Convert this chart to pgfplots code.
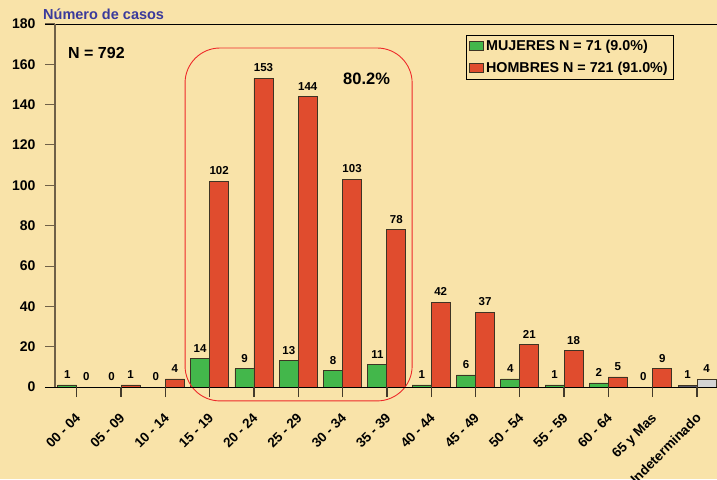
\documentclass[border=0pt]{standalone}
\usepackage{fontspec}
\setmainfont{Liberation Sans}
\usepackage{pgfplots}
\pgfplotsset{compat=1.18}
\definecolor{bgcol}{HTML}{F9E3A9}
\definecolor{verde}{HTML}{43B74B}
\definecolor{rojo}{HTML}{E04C2E}
\definecolor{gris}{HTML}{D4D4D4}
\definecolor{grisosc}{HTML}{5A5A6A}
\definecolor{borde}{HTML}{3E3424}
\definecolor{spine}{HTML}{6F6048}
\definecolor{titulo}{HTML}{3A3A9C}
\definecolor{marco}{HTML}{EE2A2A}

\pgfplotstableread{
x mujeres hombres
0 1 0
1 0 1
2 0 4
3 14 102
4 9 153
5 13 144
6 8 103
7 11 78
8 1 42
9 6 37
10 4 21
11 1 18
12 2 5
13 0 9
}\datos

\begin{document}
\begin{tikzpicture}
\fill[bgcol] (-55pt,-92pt) rectangle (662pt,387pt);
\useasboundingbox (-55pt,-92pt) rectangle (662pt,387pt);
\begin{axis}[
    scale only axis,
    width=662pt, height=363pt,
    xmin=-0.49, xmax=14.45,
    ymin=0, ymax=180,
    bar width=19pt,
    axis line style={draw=none},
    ytick={0,20,...,180},
    xtick={0,...,14},
    xticklabels={00 - 04,05 - 09,10 - 14,15 - 19,20 - 24,25 - 29,30 - 34,35 - 39,40 - 44,45 - 49,50 - 54,55 - 59,60 - 64,65 y Mas,Indeterminado},
    tick align=outside,
    major tick length=10pt,
    xtick pos=left, ytick pos=left,
    tick style={spine, line width=1pt},
    /pgf/number format/assume math mode=true,
    yticklabel style={font=\fontsize{14}{14}\selectfont\bfseries, xshift=-6pt},
    xticklabel style={font=\fontsize{13.5}{13.5}\selectfont\bfseries, rotate=45, anchor=north east, inner sep=1pt, yshift=-8pt, xshift=-11pt},
    clip=false,
    every node near coord/.append style={font=\fontsize{11.5}{11.5}\selectfont\bfseries, text=black, inner sep=0pt, yshift=6pt},
    legend style={at={(0.621,0.970)}, anchor=north west, draw=black, fill=bgcol,
        font=\fontsize{14.3}{14.3}\selectfont\bfseries, inner sep=3pt, row sep=6pt,
        legend cell align=left},
    legend image code/.code={\draw[#1] (0pt,-4.5pt) rectangle (14pt,4.5pt);},
]
\addplot[ybar, bar shift=-9.5pt, fill=verde, draw=borde, line width=0.8pt,
    nodes near coords, every node near coord/.append style={xshift=-9.5pt}]
    table[x=x, y=mujeres] {\datos};
\addlegendentry{MUJERES N = 71 (9.0\%)}
\addplot[ybar, bar shift=9.5pt, fill=rojo, draw=borde, line width=0.8pt,
    nodes near coords, every node near coord/.append style={xshift=9.5pt}]
    table[x=x, y=hombres] {\datos};
\addlegendentry{HOMBRES N = 721 (91.0\%)}
\addplot[ybar, bar shift=-9.5pt, fill=grisosc, draw=borde, line width=0.8pt,
    nodes near coords, every node near coord/.append style={xshift=-9.5pt}, forget plot]
    coordinates {(14,1)};
\addplot[ybar, bar shift=9.5pt, fill=gris, draw=borde, line width=0.8pt,
    nodes near coords, every node near coord/.append style={xshift=9.5pt}, forget plot]
    coordinates {(14,4)};

\draw[marco, line width=0.9pt, rounded corners=35pt] (axis cs:2.445,-6.9) rectangle (axis cs:7.57,168.1);
\draw[black, line width=0.8pt] (axis cs:-0.716,180) -- (rel axis cs:1,1);
\draw[black, line width=0.8pt] (axis cs:-0.716,0) -- (rel axis cs:1,0);
\draw[spine, line width=1.2pt] (rel axis cs:0,0) -- (rel axis cs:0,1);
\pgfplotsinvokeforeach{0,...,14}{
    \draw[spine!60!black, line width=1.3pt] (axis cs:#1,0) -- (axis cs:#1,-5);
}
\end{axis}
\node[anchor=west, inner sep=0pt, text=titulo, font=\fontsize{14.5}{14.5}\selectfont\bfseries] at (-12pt,373pt) {Número de casos};
\node[anchor=west, inner sep=0pt, font=\fontsize{16}{16}\selectfont\bfseries] at (13pt,334pt) {N = 792};
\node[anchor=west, inner sep=0pt, font=\fontsize{16.5}{16.5}\selectfont\bfseries] at (288pt,308pt) {80.2\%};
\end{tikzpicture}
\end{document}
